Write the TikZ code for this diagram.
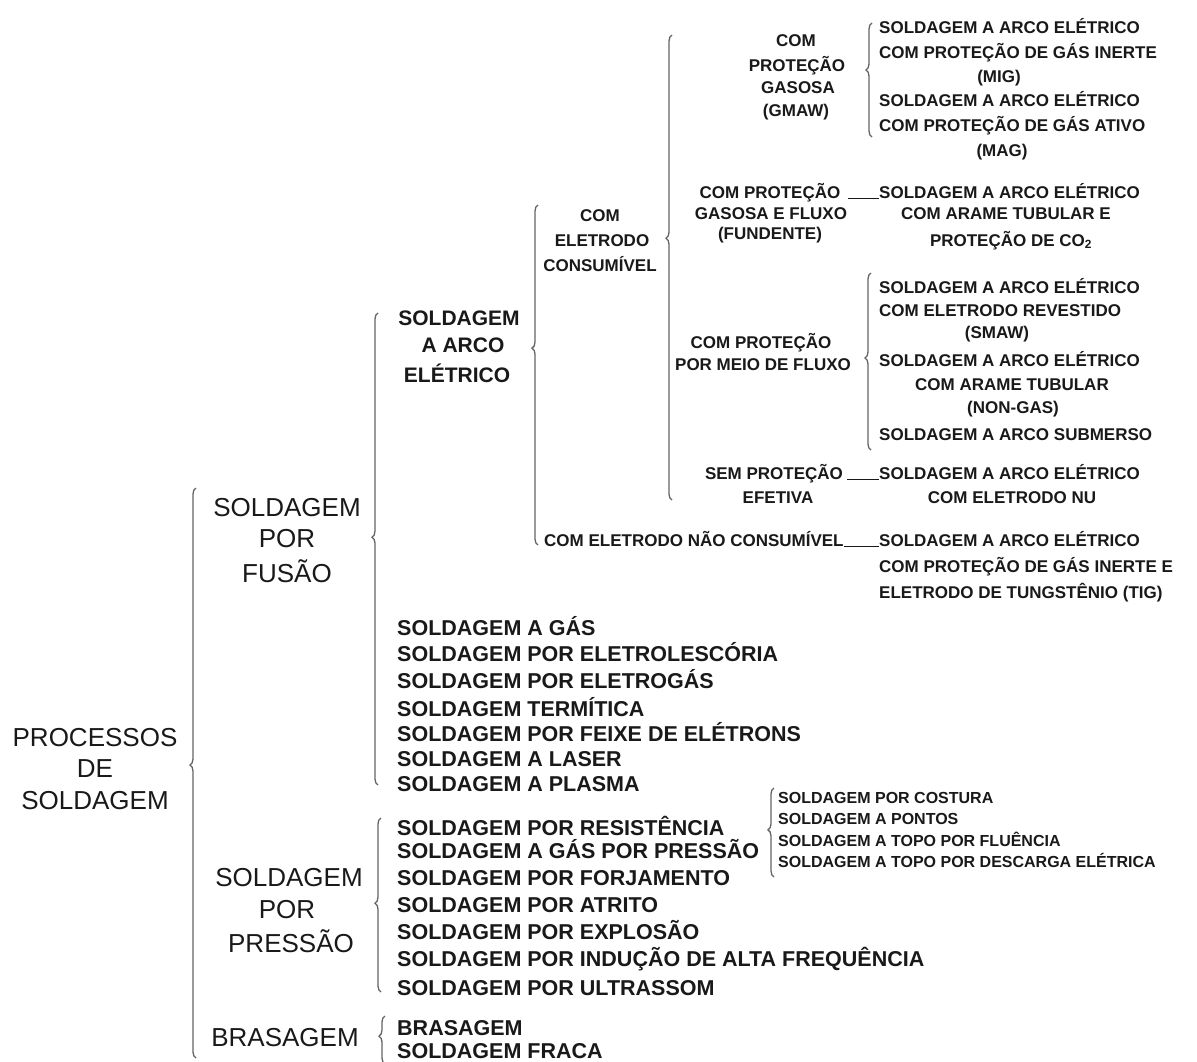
\documentclass[tikz,border=0pt]{standalone}
\usepackage{fontspec}
\setmainfont{Liberation Sans}
\usepackage{tikz}
\usetikzlibrary{decorations.pathreplacing}
\usepackage{xcolor}
\definecolor{ink}{RGB}{25, 25, 25}
\definecolor{bracegray}{RGB}{100, 100, 100}

\tikzset{
  txt/.style={inner sep=0pt, text=ink},
  big/.style={txt, anchor=base, font=\fontsize{26}{30}\selectfont},
  mid/.style={txt, anchor=base west, font=\bfseries\fontsize{21.5}{26}\selectfont},
  arcf/.style={txt, anchor=base, font=\bfseries\fontsize{21}{26}\selectfont},
  sml/.style={txt, anchor=base, font=\bfseries\fontsize{17}{20}\selectfont},
  smlw/.style={sml, anchor=base west},
  tiny/.style={txt, anchor=base west, font=\bfseries\fontsize{16}{19}\selectfont},
  brc/.style={draw=bracegray, line width=1.3pt, decorate,
    decoration={brace, amplitude=6pt, aspect=#1}},
  link/.style={draw=ink, line width=1pt}
}

\begin{document}
\begin{tikzpicture}[x=1pt, y=-1pt]
  \useasboundingbox[fill=white] (0,0) rectangle (1197,1061);

  % --- root ---
  \node[big] (proc1) at (95,746) {PROCESSOS};
  \node[big] (proc2) at (95,777) {DE};
  \node[big] (proc3) at (95,809) {SOLDAGEM};
  \coordinate (rootB) at (196,1058);
  \coordinate (rootT) at (196,488);
  \draw[brc=0.514] (rootB) -- (rootT);

  % --- level 1 ---
  \node[big] (fus1) at (287,516) {SOLDAGEM};
  \node[big] (fus2) at (287,547) {POR};
  \node[big] (fus3) at (287,582) {FUSÃO};
  \node[big] (pre1) at (289,886) {SOLDAGEM};
  \node[big] (pre2) at (287,918) {POR};
  \node[big] (pre3) at (291,952) {PRESSÃO};
  \node[big] (bra) at (285,1046) {BRASAGEM};

  % --- fusion branch ---
  \coordinate (fusB) at (378,785);
  \coordinate (fusT) at (378,313);
  \draw[brc=0.525] (fusB) -- (fusT);
  \node[arcf] (arc1) at (459,325) {SOLDAGEM};
  \node[arcf] (arc2) at (463,352) {A ARCO};
  \node[arcf] (arc3) at (457,382) {ELÉTRICO};
  \node[mid] (fl1) at (397,635) {SOLDAGEM A GÁS};
  \node[mid] (fl2) at (397,661) {SOLDAGEM POR ELETROLESCÓRIA};
  \node[mid] (fl3) at (397,688) {SOLDAGEM POR ELETROGÁS};
  \node[mid] (fl4) at (397,716) {SOLDAGEM TERMÍTICA};
  \node[mid] (fl5) at (397,741) {SOLDAGEM POR FEIXE DE ELÉTRONS};
  \node[mid] (fl6) at (397,766) {SOLDAGEM A LASER};
  \node[mid] (fl7) at (397,791) {SOLDAGEM A PLASMA};

  % --- arc welding ---
  \coordinate (arcB) at (538,545);
  \coordinate (arcT) at (538,205);
  \draw[brc=0.579] (arcB) -- (arcT);
  \node[sml] (ce1) at (600,221) {COM};
  \node[sml] (ce2) at (602,246) {ELETRODO};
  \node[sml] (ce3) at (600,271) {CONSUMÍVEL};
  \node[smlw] (nc) at (544,546) {COM ELETRODO NÃO CONSUMÍVEL};

  \coordinate (ceB) at (672,500);
  \coordinate (ceT) at (672,35);
  \draw[brc=0.563] (ceB) -- (ceT);

  % gas shielded
  \node[sml] (gm1) at (796,46) {COM};
  \node[sml] (gm2) at (797,71) {PROTEÇÃO};
  \node[sml] (gm3) at (798,93) {GASOSA};
  \node[sml] (gm4) at (796,116) {(GMAW)};
  \coordinate (gmB) at (872,137);
  \coordinate (gmT) at (872,23);
  \draw[brc=0.588] (gmB) -- (gmT);
  \node[smlw] (g1) at (879,33) {SOLDAGEM A ARCO ELÉTRICO};
  \node[smlw] (g2) at (879,58) {COM PROTEÇÃO DE GÁS INERTE};
  \node[sml] (g3) at (999,82) {(MIG)};
  \node[smlw] (g4) at (879,106) {SOLDAGEM A ARCO ELÉTRICO};
  \node[smlw] (g5) at (879,131) {COM PROTEÇÃO DE GÁS ATIVO};
  \node[sml] (g6) at (1002,156) {(MAG)};

  % gas and flux
  \node[sml] (gfl1) at (770,198) {COM PROTEÇÃO};
  \node[sml] (gfl2) at (771,219) {GASOSA E FLUXO};
  \node[sml] (gfl3) at (770,239) {(FUNDENTE)};
  \node[smlw] (gf1) at (879,198) {SOLDAGEM A ARCO ELÉTRICO};
  \node[sml] (gf2) at (1006,219) {COM ARAME TUBULAR E};
  \node[sml] (gf3) at (1011,246) {PROTEÇÃO DE CO\textsubscript{2}};
  \draw[link, shorten <=7pt] (gfl1.base east) -- (gf1.base west);

  % flux
  \node[sml] (fx1) at (761,348) {COM PROTEÇÃO};
  \node[sml] (fx2) at (763,370) {POR MEIO DE FLUXO};
  \coordinate (fxB) at (871,450);
  \coordinate (fxT) at (871,273);
  \draw[brc=0.52] (fxB) -- (fxT);
  \node[smlw] (x1) at (879,293) {SOLDAGEM A ARCO ELÉTRICO};
  \node[smlw] (x2) at (879,316) {COM ELETRODO REVESTIDO};
  \node[sml] (x3) at (997,338) {(SMAW)};
  \node[smlw] (x4) at (879,366) {SOLDAGEM A ARCO ELÉTRICO};
  \node[sml] (x5) at (1012,390) {COM ARAME TUBULAR};
  \node[sml] (x6) at (1013,413) {(NON-GAS)};
  \node[smlw] (x7) at (879,440) {SOLDAGEM A ARCO SUBMERSO};

  % no shielding
  \node[sml] (sem1) at (774,479) {SEM PROTEÇÃO};
  \node[sml] (sem2) at (778,503) {EFETIVA};
  \node[smlw] (s1) at (879,479) {SOLDAGEM A ARCO ELÉTRICO};
  \node[sml] (s2) at (1012,503) {COM ELETRODO NU};
  \draw[link, shorten <=4pt] (sem1.base east) -- (s1.base west);

  % non consumable
  \node[smlw] (t1) at (879,546) {SOLDAGEM A ARCO ELÉTRICO};
  \node[smlw] (t2) at (879,572) {COM PROTEÇÃO DE GÁS INERTE E};
  \node[smlw] (t3) at (879,598) {ELETRODO DE TUNGSTÊNIO (TIG)};
  \draw[link] (nc.base east) -- (t1.base west);

  % --- pressure branch ---
  \coordinate (preB) at (381,992);
  \coordinate (preT) at (381,818);
  \draw[brc=0.51] (preB) -- (preT);
  \node[mid] (pl1) at (397,835) {SOLDAGEM POR RESISTÊNCIA};
  \node[mid] (pl2) at (397,858) {SOLDAGEM A GÁS POR PRESSÃO};
  \node[mid] (pl3) at (397,885) {SOLDAGEM POR FORJAMENTO};
  \node[mid] (pl4) at (397,912) {SOLDAGEM POR ATRITO};
  \node[mid] (pl5) at (397,939) {SOLDAGEM POR EXPLOSÃO};
  \node[mid] (pl6) at (397,966) {SOLDAGEM POR INDUÇÃO DE ALTA FREQUÊNCIA};
  \node[mid] (pl7) at (397,995) {SOLDAGEM POR ULTRASSOM};

  \coordinate (resB) at (774,877);
  \coordinate (resT) at (774,788);
  \draw[brc=0.53] (resB) -- (resT);
  \node[tiny] (r1) at (778,803) {SOLDAGEM POR COSTURA};
  \node[tiny] (r2) at (778,824) {SOLDAGEM A PONTOS};
  \node[tiny] (r3) at (778,846) {SOLDAGEM A TOPO POR FLUÊNCIA};
  \node[tiny] (r4) at (778,867) {SOLDAGEM A TOPO POR DESCARGA ELÉTRICA};

  % --- brazing ---
  \coordinate (braB) at (385,1064);
  \coordinate (braT) at (385,1016);
  \draw[brc=0.58] (braB) -- (braT);
  \node[mid] (bl1) at (397,1035) {BRASAGEM};
  \node[mid] (bl2) at (397,1058) {SOLDAGEM FRACA};
\end{tikzpicture}
\end{document}
